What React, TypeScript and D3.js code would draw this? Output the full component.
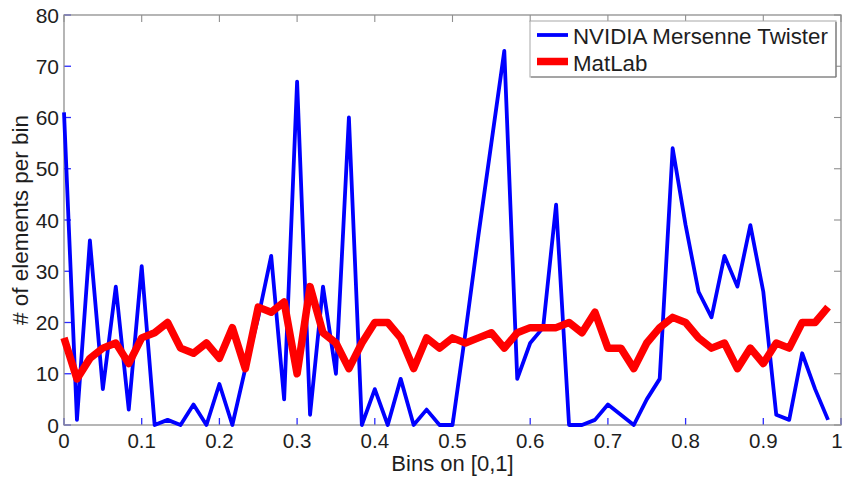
import React from "react";
import * as d3 from "d3";

const binCount = 60;
const nvidiaCounts = [61, 1, 36, 7, 27, 3, 31, 0, 1, 0, 4, 0, 8, 0, 11, 21, 33, 5, 67, 2, 27, 10, 60, 0, 7, 0, 9, 0, 3, 0, 0, 18, 37, 55, 73, 9, 16, 19, 43, 0, 0, 1, 4, 2, 0, 5, 9, 54, 39, 26, 21, 33, 27, 39, 26, 2, 1, 14, 7, 1];
const matlabCounts = [17, 9, 13, 15, 16, 12, 17, 18, 20, 15, 14, 16, 13, 19, 11, 23, 22, 24, 10, 27, 18, 16, 11, 16, 20, 20, 17, 11, 17, 15, 17, 16, 17, 18, 15, 18, 19, 19, 19, 20, 18, 22, 15, 15, 11, 16, 19, 21, 20, 17, 15, 16, 11, 15, 12, 16, 15, 20, 20, 23];
const xTicks = [0, 0.1, 0.2, 0.3, 0.4, 0.5, 0.6, 0.7, 0.8, 0.9, 1];
const yTicks = [0, 10, 20, 30, 40, 50, 60, 70, 80];
const seriesNames = ["NVIDIA Mersenne Twister", "MatLab"];

const W = 844, H = 480;
const L = 64, R = 841, T = 15, B = 425;
const FONT = "'Liberation Sans', Arial, Helvetica, sans-serif";

export default function App() {
  const x = d3.scaleLinear().domain([0, 1]).range([L, R]);
  const y = d3.scaleLinear().domain([0, 80]).range([B, T]);
  const line = d3
    .line<number>()
    .x((_, i) => x(i / binCount))
    .y((d) => y(d));
  const tickLen = 7;
  const axisColor = "#8f8f8f";
  const tickBlue = "#2a2aff";
  const textColor = "#1e1e1e";
  return (
    <svg width={W} height={H} style={{ position: "absolute", left: 0, top: 0, background: "#fff" }} fontFamily={FONT}>
      <rect x={0} y={0} width={W} height={H} fill="#fff" />
      {xTicks.map((t) => (
        <g key={"xt" + t}>
          <line x1={x(t)} x2={x(t)} y1={B} y2={B - tickLen} stroke={tickBlue} strokeWidth={1.3} />
          <line x1={x(t)} x2={x(t)} y1={T} y2={T + tickLen} stroke={axisColor} strokeWidth={1.1} />
          <text x={Math.min(x(t), 837)} y={447.5} textAnchor="middle" fontSize={20.5} fill={textColor}>
            {String(t)}
          </text>
        </g>
      ))}
      {yTicks.map((t) => (
        <g key={"yt" + t}>
          <line x1={L} x2={L + tickLen} y1={y(t)} y2={y(t)} stroke={tickBlue} strokeWidth={1.3} />
          <line x1={R} x2={R - tickLen} y1={y(t)} y2={y(t)} stroke={axisColor} strokeWidth={1.1} />
          <text x={59} y={y(t) + 7.5} textAnchor="end" fontSize={21} fill={textColor}>
            {String(t)}
          </text>
        </g>
      ))}
      <rect x={L} y={T} width={R - L} height={B - T} fill="none" stroke={axisColor} strokeWidth={1.3} />
      <path d={line(nvidiaCounts) || ""} fill="none" stroke="#0000ff" strokeWidth={3.8} strokeLinejoin="round" />
      <path d={line(matlabCounts) || ""} fill="none" stroke="#ff0000" strokeWidth={7.5} strokeLinejoin="round" />
      <text x={(L + R) / 2} y={471} textAnchor="middle" fontSize={22} fill={textColor}>
        Bins on [0,1]
      </text>
      <text transform={`translate(28, ${(T + B) / 2}) rotate(-90)`} textAnchor="middle" fontSize={22.5} fill={textColor}>
        # of elements per bin
      </text>
      <g>
        <rect x={530} y={21} width={306} height={56} fill="#fff" stroke="#a8a8a8" strokeWidth={1} />
        <line x1={531} x2={836} y1={77} y2={77} stroke="#777" strokeWidth={1.2} />
        <line x1={836} x2={836} y1={22} y2={77} stroke="#777" strokeWidth={1.2} />
        <line x1={537} x2={568} y1={35} y2={35} stroke="#0000ff" strokeWidth={3.8} />
        <line x1={537} x2={568} y1={61.5} y2={61.5} stroke="#ff0000" strokeWidth={7.5} />
        <text x={573} y={43.5} fontSize={22.3} fill={textColor}>
          {seriesNames[0]}
        </text>
        <text x={573} y={70.5} fontSize={22.3} fill={textColor}>
          {seriesNames[1]}
        </text>
      </g>
    </svg>
  );
}
